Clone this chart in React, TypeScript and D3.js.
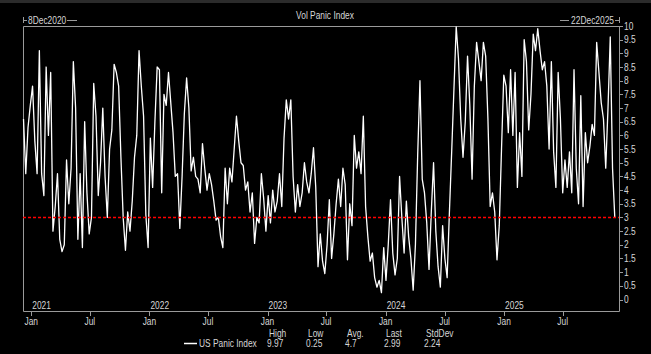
import * as d3 from 'd3';

// Weekly readings of the US Panic Index, starting 8 Dec 2020
const START_DATE = new Date(2020, 11, 8);
const END_DATE = new Date(2025, 11, 22);
const panicValues = [
  6.6, 4.6, 6.3, 7.1, 7.8, 5.8, 4.6, 9.1, 4.6, 3.8,
  8.5, 6.0, 8.3, 2.5, 3.4, 4.6, 2.2, 1.75, 2.0, 5.1,
  3.5, 4.8, 8.7, 7.0, 2.2, 4.6, 1.9, 6.5, 3.9, 2.4,
  3.0, 7.9, 6.7, 3.8, 5.0, 7.0, 4.5, 3.0, 5.5, 6.2,
  8.6, 8.3, 7.8, 5.2, 3.0, 1.8, 3.2, 2.5, 3.6, 5.2,
  6.0, 9.1, 7.8, 6.7, 3.1, 1.9, 5.9, 4.1, 6.5, 8.5,
  8.4, 3.9, 7.5, 7.1, 8.3, 7.2, 6.1, 4.5, 4.6, 2.6,
  4.5, 6.8, 8.1, 7.0, 4.7, 5.2, 4.5, 4.4, 3.9, 5.7,
  4.8, 4.0, 4.6, 4.2, 3.6, 2.9, 3.0, 2.3, 1.9, 4.8,
  3.5, 4.8, 4.3, 5.5, 6.7, 5.8, 5.0, 4.9, 4.0, 4.3,
  3.2, 3.9, 2.05, 3.0, 2.8, 4.6, 3.7, 2.5, 3.8, 2.8,
  4.0, 3.2, 3.6, 4.6, 3.4, 5.9, 7.3, 6.6, 7.3, 4.5,
  3.2, 4.2, 3.4, 3.9, 5.0, 4.3, 3.9, 4.6, 5.55, 4.1,
  1.2, 2.4, 1.4, 0.95, 2.0, 3.65, 1.5, 2.4, 3.5, 4.4,
  3.4, 4.8, 4.2, 1.45, 3.5, 2.7, 6.0, 4.8, 5.4, 4.6,
  6.7, 3.4, 2.3, 1.4, 1.7, 0.8, 0.45, 0.7, 0.25, 1.9,
  0.7, 2.0, 3.65, 1.7, 0.9, 1.5, 4.5, 3.0, 1.7, 3.6,
  2.3, 1.5, 0.34, 2.0, 5.3, 8.0, 4.4, 3.9, 2.8, 1.1,
  3.2, 5.0, 2.5, 1.2, 0.45, 2.7, 1.5, 0.8, 3.2, 5.4,
  7.7, 9.97, 8.8, 6.6, 5.2, 6.5, 8.9, 7.1, 4.4, 7.8,
  9.4, 8.7, 8.0, 9.4, 8.9, 6.6, 3.4, 3.9, 3.2, 1.45,
  2.7, 5.5, 8.2, 7.8, 6.1, 8.4, 6.0, 8.3, 4.1, 6.1,
  4.5, 9.5, 8.7, 6.2, 7.5, 9.7, 9.1, 9.9, 9.1, 8.4,
  8.7, 7.8, 5.5, 8.7, 5.4, 4.1, 8.3, 6.6, 3.9, 5.1,
  4.1, 5.4, 3.9, 8.4, 4.8, 3.5, 7.45, 3.4, 6.1, 5.0,
  5.6, 6.4, 6.0, 9.4, 8.3, 7.2, 6.6, 4.8, 7.0, 9.6,
  4.8, 2.99,
];

const yTicks = [0, 0.5, 1, 1.5, 2, 2.5, 3, 3.5, 4, 4.5, 5, 5.5, 6, 6.5, 7, 7.5, 8, 8.5, 9, 9.5, 10];
const yearLabels = ['2021', '2022', '2023', '2024', '2025'];
const statHeaders = ['High', 'Low', 'Avg.', 'Last', 'StdDev'];
const statValues = ['9.97', '0.25', '4.7', '2.99', '2.24'];
const thresholdValue = 3;

const W = 651;
const H = 354;
const left = 23;
const right = 619;
const top = 26;
const bottom = 311;

const AXIS = '#9a9a9a';
const TEXT = '#d6d6d6';
const FONT = '"Liberation Sans", Arial, sans-serif';

// condensed text, the terminal font is narrower than Arial
function T({ x, y, anchor = 'start', children }: { x: number; y: number; anchor?: string; children: any }) {
  return (
    <text transform={`translate(${x},${y}) scale(0.84,1)`} textAnchor={anchor} fill={TEXT} fontSize={10}>
      {children}
    </text>
  );
}

export default function App() {
  const x = d3.scaleTime().domain([START_DATE, END_DATE]).range([left + 0.5, right]);
  const y = d3.scaleLinear().domain([0, 10]).range([299.5, 26]);

  const points = panicValues.map((v, i) => ({ date: d3.timeDay.offset(START_DATE, i * 7), v }));
  const line = d3.line<{ date: Date; v: number }>()
    .x(d => x(d.date))
    .y(d => y(d.v));

  const monthTicks = d3.timeMonth.every(6)!.range(new Date(2021, 0, 1), new Date(2025, 11, 1));
  const statX = [267, 306, 345, 384, 424];
  const redY = Math.round(y(thresholdValue)) + 0.5;

  return (
    <svg width={W} height={H} style={{ position: 'absolute', left: 0, top: 0, background: '#000' }} fontFamily={FONT}>
      <rect width={W} height={H} fill="#000" />
      <rect width={W} height={3} fill="#2b2b2b" />

      {/* title + date range */}
      <T x={325} y={19} anchor="middle">Vol Panic Index</T>
      <path d={`M${left + 0.5},17V23M${left},20.5H27M67,20.5H77`} stroke={AXIS} fill="none" />
      <T x={28} y={23.5}>8Dec2020</T>
      <path d={`M${right + 0.5},17V23M${right},20.5H615M560,20.5H569`} stroke={AXIS} fill="none" />
      <T x={614} y={23.5} anchor="end">22Dec2025</T>

      {/* frame */}
      <path d={`M${left + 0.5},${top + 0.5}H${right + 0.5}V${bottom + 0.5}H${left + 0.5}Z`} stroke={AXIS} fill="none" />

      {/* right y axis */}
      {yTicks.map(t => (
        <g key={t}>
          <line x1={right} x2={right + 4} y1={Math.round(y(t)) + 0.5} y2={Math.round(y(t)) + 0.5} stroke={AXIS} />
          <T x={right + 5} y={y(t) + 3.5}>{t}</T>
        </g>
      ))}

      {/* bottom x axis */}
      {monthTicks.map(d => (
        <g key={d.getTime()}>
          <line x1={Math.round(x(d)) + 0.5} x2={Math.round(x(d)) + 0.5} y1={bottom} y2={bottom + 5} stroke={AXIS} />
          <T x={x(d)} y={325} anchor="middle">{d.getMonth() === 0 ? 'Jan' : 'Jul'}</T>
        </g>
      ))}
      {yearLabels.map(yr => (
        <T key={yr} x={x(new Date(+yr, 0, 1)) + 1} y={309}>{yr}</T>
      ))}

      {/* data */}
      <path d={line(points) ?? ''} fill="none" stroke="#fff" strokeWidth={1.3} strokeLinejoin="round" />
      <line x1={left} x2={right} y1={redY} y2={redY} stroke="#ff0000" strokeWidth={1.4} strokeDasharray="3,2" />

      {/* legend */}
      <line x1={184} x2={197} y1={343.5} y2={343.5} stroke="#fff" strokeWidth={1.5} />
      <T x={199} y={346.5}>US Panic Index</T>
      {statHeaders.map((h, i) => (
        <T key={h} x={statX[i] + 2} y={336.5}>{h}</T>
      ))}
      {statValues.map((v, i) => (
        <T key={i} x={statX[i]} y={346.5}>{v}</T>
      ))}
    </svg>
  );
}
